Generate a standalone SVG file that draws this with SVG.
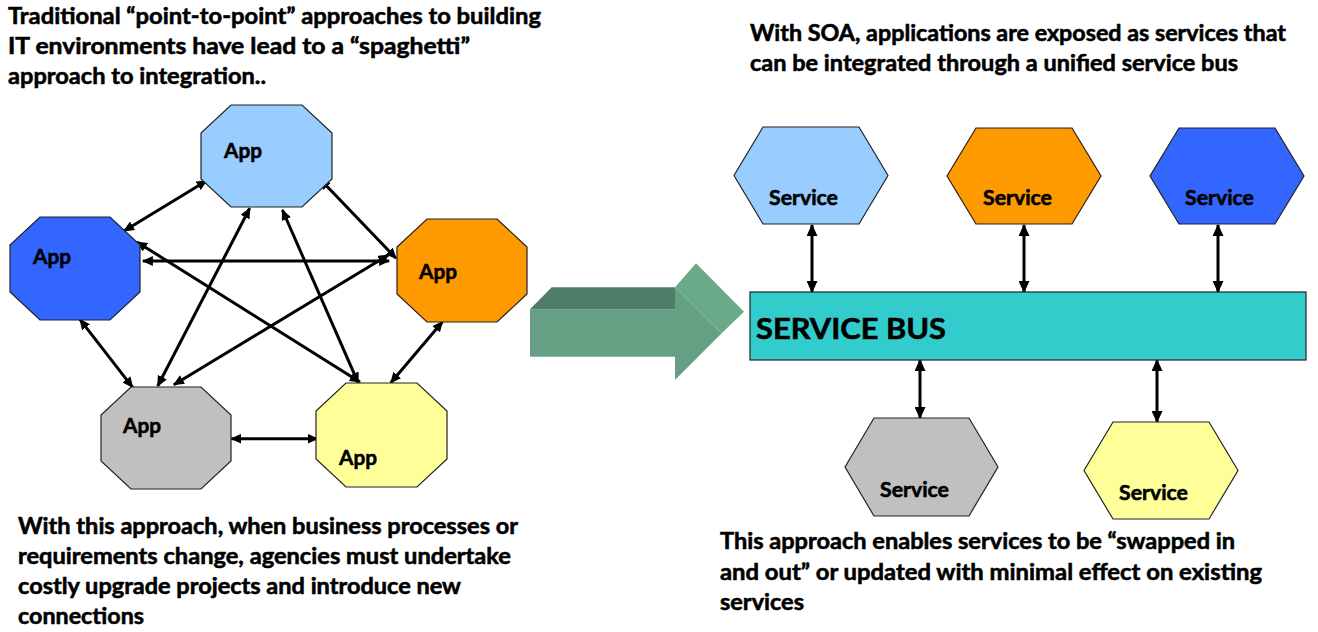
<svg xmlns="http://www.w3.org/2000/svg" width="1318" height="632" viewBox="0 0 1318 632">
<style>
.t{font-family:Lato,"Open Sans","Liberation Sans",sans-serif;font-weight:bold;fill:#000;stroke:#000;stroke-width:0.55}
.body{font-size:22px}
.lbl{font-size:21px}
.svc{font-size:20px}
.shape{stroke:#222;stroke-width:1.2}
.con{stroke:#000;stroke-width:3;fill:none;marker-start:url(#ah);marker-end:url(#ah)}
.vcon{stroke:#000;stroke-width:3;fill:none;marker-start:url(#ah2);marker-end:url(#ah2)}
</style>
<defs>
<marker id="ah" markerUnits="userSpaceOnUse" markerWidth="11" markerHeight="10" refX="10" refY="5" orient="auto-start-reverse"><path d="M0,0 L11,5 L0,10 z" fill="#000"/></marker>
<marker id="ah2" markerUnits="userSpaceOnUse" markerWidth="12" markerHeight="11" refX="11" refY="5.5" orient="auto-start-reverse"><path d="M0,0 L12,5.5 L0,11 z" fill="#000"/></marker>
</defs>
<rect width="1318" height="632" fill="#fff"/>
<g id="text-top-left" class="t body">
<text x="8" y="24" textLength="533" lengthAdjust="spacingAndGlyphs">Traditional “point-to-point” approaches to building</text>
<text x="8" y="54" textLength="462" lengthAdjust="spacingAndGlyphs">IT environments have lead to a “spaghetti”</text>
<text x="8" y="84" textLength="258" lengthAdjust="spacingAndGlyphs">approach to integration..</text>
</g>
<g id="text-top-right" class="t body">
<text x="750" y="41" textLength="536" lengthAdjust="spacingAndGlyphs">With SOA, applications are exposed as services that</text>
<text x="750" y="71" textLength="488" lengthAdjust="spacingAndGlyphs">can be integrated through a unified service bus</text>
</g>
<g id="text-bottom-left" class="t body">
<text x="18" y="534" textLength="500" lengthAdjust="spacingAndGlyphs">With this approach, when business processes or</text>
<text x="18" y="564" textLength="493" lengthAdjust="spacingAndGlyphs">requirements change, agencies must undertake</text>
<text x="18" y="594" textLength="443" lengthAdjust="spacingAndGlyphs">costly upgrade projects and introduce new</text>
<text x="18" y="624" textLength="126" lengthAdjust="spacingAndGlyphs">connections</text>
</g>
<g id="text-bottom-right" class="t body">
<text x="720" y="549" textLength="515" lengthAdjust="spacingAndGlyphs">This approach enables services to be “swapped in</text>
<text x="720" y="580" textLength="542" lengthAdjust="spacingAndGlyphs">and out” or updated with minimal effect on existing</text>
<text x="720" y="610" textLength="84" lengthAdjust="spacingAndGlyphs">services</text>
</g>
<g id="connectors-left">
<line class="con" x1="206.6" y1="180.7" x2="124" y2="231"/>
<line class="con" x1="320.2" y1="179.3" x2="396" y2="258.3"/>
<line class="con" x1="249.7" y1="208.3" x2="157.7" y2="386"/>
<line class="con" x1="282.4" y1="210" x2="358.1" y2="382.7"/>
<line class="con" x1="142.9" y1="261" x2="389.1" y2="261"/>
<line class="con" x1="137" y1="242" x2="359.9" y2="382"/>
<line class="con" x1="388.4" y1="255" x2="173.9" y2="384.7"/>
<line class="con" x1="79.9" y1="319.3" x2="132.6" y2="387.3"/>
<line class="con" x1="442.5" y1="321.7" x2="390.8" y2="382.7"/>
<line class="con" x1="231.4" y1="438.7" x2="317.5" y2="438.7"/>
</g>
<g id="app-top">
<polygon class="shape" fill="#99CCFF" points="231,105 302,105 332,133 332,179 302,207 231,207 201,179 201,133"/>
<text class="t lbl" x="224" y="158" textLength="38" lengthAdjust="spacingAndGlyphs">App</text>
</g>
<g id="app-blue">
<polygon class="shape" fill="#3366FF" points="40,217 110,217 140,245 140,292 110,320 40,320 10,292 10,245"/>
<text class="t lbl" x="33" y="264" textLength="38" lengthAdjust="spacingAndGlyphs">App</text>
</g>
<g id="app-orange">
<polygon class="shape" fill="#FF9900" points="427,219 497,219 527,247 527,294 497,322 427,322 397,294 397,247"/>
<text class="t lbl" x="419" y="279" textLength="38" lengthAdjust="spacingAndGlyphs">App</text>
</g>
<g id="app-gray">
<polygon class="shape" fill="#C0C0C0" points="131,387 201,387 231,415 231,461 201,489 131,489 101,461 101,415"/>
<text class="t lbl" x="123" y="433" textLength="38" lengthAdjust="spacingAndGlyphs">App</text>
</g>
<g id="app-yellow">
<polygon class="shape" fill="#FFFF99" points="346,383 417,383 447,411 447,459 417,487 346,487 316,459 316,411"/>
<text class="t lbl" x="339" y="465" textLength="38" lengthAdjust="spacingAndGlyphs">App</text>
</g>
<g id="big-arrow">
<polygon fill="#65A085" points="530,309.3 675,309.3 675,287.3 721.7,333.3 675,380 675,356.7 530,356.7"/>
<polygon fill="#4E7E67" points="530,309.3 551.7,287.3 675,287.3 675,309.3"/>
<polygon fill="#6AAA8B" points="675,287.3 696,263.3 744,311.7 721.7,333.3"/>
<line x1="675" y1="287.3" x2="721.7" y2="333.3" stroke="#7DBB9C" stroke-width="1"/>
</g>
<g id="connectors-right">
<line class="vcon" x1="812" y1="225" x2="812" y2="292"/>
<line class="vcon" x1="1024" y1="225" x2="1024" y2="292"/>
<line class="vcon" x1="1218" y1="225" x2="1218" y2="292"/>
<line class="vcon" x1="920" y1="360" x2="920" y2="418"/>
<line class="vcon" x1="1157" y1="360" x2="1157" y2="422"/>
</g>
<g id="service-bus">
<rect class="shape" x="750" y="292" width="556" height="68" fill="#33CCCC"/>
<text class="t" x="756" y="339" font-size="29" textLength="190" lengthAdjust="spacingAndGlyphs">SERVICE BUS</text>
</g>
<g id="svc-lightblue">
<polygon class="shape" fill="#99CCFF" points="763,127 859,127 888,175.5 859,224 763,224 734,175.5"/>
<text class="t svc" x="769" y="205" textLength="69" lengthAdjust="spacingAndGlyphs">Service</text>
</g>
<g id="svc-orange">
<polygon class="shape" fill="#FF9900" points="976,128 1072,128 1101,176 1072,224 976,224 947,176"/>
<text class="t svc" x="983" y="205" textLength="69" lengthAdjust="spacingAndGlyphs">Service</text>
</g>
<g id="svc-blue">
<polygon class="shape" fill="#3366FF" points="1179,128 1275,128 1304,176 1275,224 1179,224 1150,176"/>
<text class="t svc" x="1185" y="205" textLength="69" lengthAdjust="spacingAndGlyphs">Service</text>
</g>
<g id="svc-gray">
<polygon class="shape" fill="#C0C0C0" points="874,418 969,418 998,467 969,516 874,516 845,467"/>
<text class="t svc" x="880" y="497" textLength="69" lengthAdjust="spacingAndGlyphs">Service</text>
</g>
<g id="svc-yellow">
<polygon class="shape" fill="#FFFF99" points="1113,422 1209,422 1238,470.5 1209,519 1113,519 1084,470.5"/>
<text class="t svc" x="1119" y="500" textLength="69" lengthAdjust="spacingAndGlyphs">Service</text>
</g>
</svg>
